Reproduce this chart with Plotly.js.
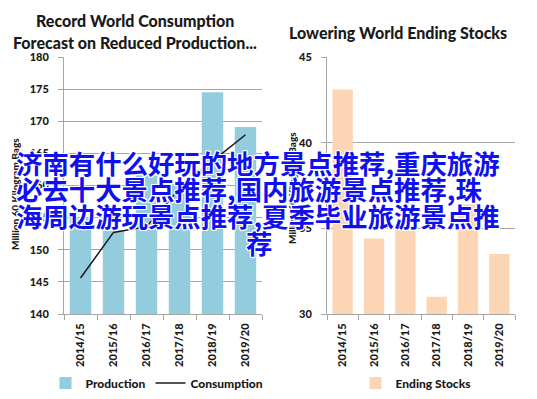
<!DOCTYPE html>
<html>
<head>
<meta charset="utf-8">
<script src="https://cdn.plot.ly/plotly-3.0.1.min.js"></script>
<style>html,body{margin:0;padding:0;background:#fff;}#chart{width:537px;height:399px;}</style>
</head>
<body>
<div id="chart"></div>
<script>
// ---- data ----
const seasons = ["2014/15", "2015/16", "2016/17", "2017/18", "2018/19", "2019/20"];
const production = [155.0, 153.0, 161.6, 160.2, 174.5, 169.1];
const consumption = [145.6, 152.7, 153.6, 159.5, 163.8, 167.9];
const endingStocks = [43.1, 34.4, 35.2, 31.0, 36.4, 33.5];
const leftTitle = ["Record World Consumption", "Forecast on Reduced Production..."];
const rightTitle = "Lowering World Ending Stocks";
const yAxisTitle = "Million 60 Kilogram Bags";
const overlayLines = [
  "济南有什么好玩的地方景点推荐,重庆旅游",
  "必去十大景点推荐,国内旅游景点推荐,珠",
  "海周边游玩景点推荐,夏季毕业旅游景点推",
  "荐"
];

const W = 537, H = 399;
const px = x => x / W;
const py = y => (H - y) / H;

const tickFont = {family: "Lato, 'Open Sans', sans-serif", size: 11, color: "#1a1a1a", weight: 900};
const gridCol = "#a6a6a6";

const traces = [
  {type: "bar", x: seasons, y: production, name: "Production", xaxis: "x", yaxis: "y",
   marker: {color: "#93cddd"}, legend: "legend"},
  {type: "scatter", mode: "lines", x: seasons, y: consumption, name: "Consumption", xaxis: "x", yaxis: "y",
   line: {color: "#1a1a1a", width: 1.5}, legend: "legend"},
  {type: "bar", x: seasons, y: endingStocks, name: "Ending Stocks", xaxis: "x2", yaxis: "y2",
   marker: {color: "#fcd5b5"}, legend: "legend2"}
];

function xAxis(domain, anchor) {
  return {domain: domain, anchor: anchor, type: "category", showline: true, linecolor: gridCol, linewidth: 1,
    ticks: "outside", tickson: "boundaries", ticklen: 5, tickcolor: gridCol, tickangle: -90,
    tickfont: tickFont, showgrid: false, ticklabelstandoff: 4, fixedrange: true};
}
function yAxis(domain, anchor, range, dtick) {
  return {domain: domain, anchor: anchor, range: range, dtick: dtick, tick0: range[0], showline: true,
    linecolor: gridCol, linewidth: 1, ticks: "outside", ticklen: 5, tickcolor: gridCol,
    showgrid: true, gridcolor: gridCol, gridwidth: 1, zeroline: false, tickfont: tickFont,
    ticklabelstandoff: 7, fixedrange: true};
}

const yDom = [py(314), py(57)];
const titleFont = {family: "Lato, 'Open Sans', sans-serif", size: 16, color: "#1a1a1a", weight: 900};
const overlayFont = {family: "'Noto Sans CJK SC', sans-serif", size: 26.4, color: "#1010ee", weight: "bold",
  shadow: "1px 1px 0 #fff, -1px -1px 0 #fff, 1px -1px 0 #fff, -1px 1px 0 #fff, 0 1px 0 #fff, 0 -1px 0 #fff, 1px 0 0 #fff, -1px 0 0 #fff"};
const legendFont = {family: "Lato, sans-serif", size: 12, color: "#1a1a1a", weight: 900};
const axTitleFont = {family: "Lato, sans-serif", size: 10, color: "#1a1a1a", weight: 900};

const annotations = [
  {text: leftTitle[0], x: px(135), y: py(20), xref: "paper", yref: "paper", showarrow: false, font: titleFont, xanchor: "center", yanchor: "middle"},
  {text: leftTitle[1], x: px(135), y: py(42), xref: "paper", yref: "paper", showarrow: false, font: titleFont, xanchor: "center", yanchor: "middle"},
  {text: rightTitle, x: px(398), y: py(32), xref: "paper", yref: "paper", showarrow: false, font: titleFont, xanchor: "center", yanchor: "middle"},
  {text: yAxisTitle, x: px(15), y: py(194), xref: "paper", yref: "paper", showarrow: false, textangle: -90,
   font: axTitleFont, xanchor: "center", yanchor: "middle"},
  {text: yAxisTitle, x: px(292), y: py(188), xref: "paper", yref: "paper", showarrow: false, textangle: -90,
   font: axTitleFont, xanchor: "center", yanchor: "middle"}
];
const lineY = [162, 188.5, 215.5, 242];
overlayLines.forEach((t, i) => {
  const last = i === overlayLines.length - 1;
  annotations.push({text: t, x: last ? px(259) : px(14), y: py(lineY[i]), xref: "paper", yref: "paper",
    showarrow: false, font: overlayFont, xanchor: last ? "center" : "left", yanchor: "middle"});
});

const layout = {
  width: W, height: H, margin: {l: 0, r: 0, t: 0, b: 0},
  paper_bgcolor: "#fff", plot_bgcolor: "#fff",
  bargap: 0.35,
  xaxis: xAxis([px(64), px(262)], "y"),
  yaxis: yAxis(yDom, "x", [140, 180], 5),
  xaxis2: xAxis([px(327), px(515)], "y2"),
  yaxis2: yAxis(yDom, "x2", [30, 45], 5),
  legend: {orientation: "h", x: px(157), y: py(383), xanchor: "center", yanchor: "middle",
    font: legendFont, bgcolor: "rgba(0,0,0,0)", itemwidth: 30},
  legend2: {orientation: "h", x: px(416), y: py(383), xanchor: "center", yanchor: "middle",
    font: legendFont, bgcolor: "rgba(0,0,0,0)"},
  annotations: annotations,
  showlegend: true
};

Plotly.newPlot("chart", traces, layout, {displayModeBar: false, staticPlot: true});
</script>
</body>
</html>
